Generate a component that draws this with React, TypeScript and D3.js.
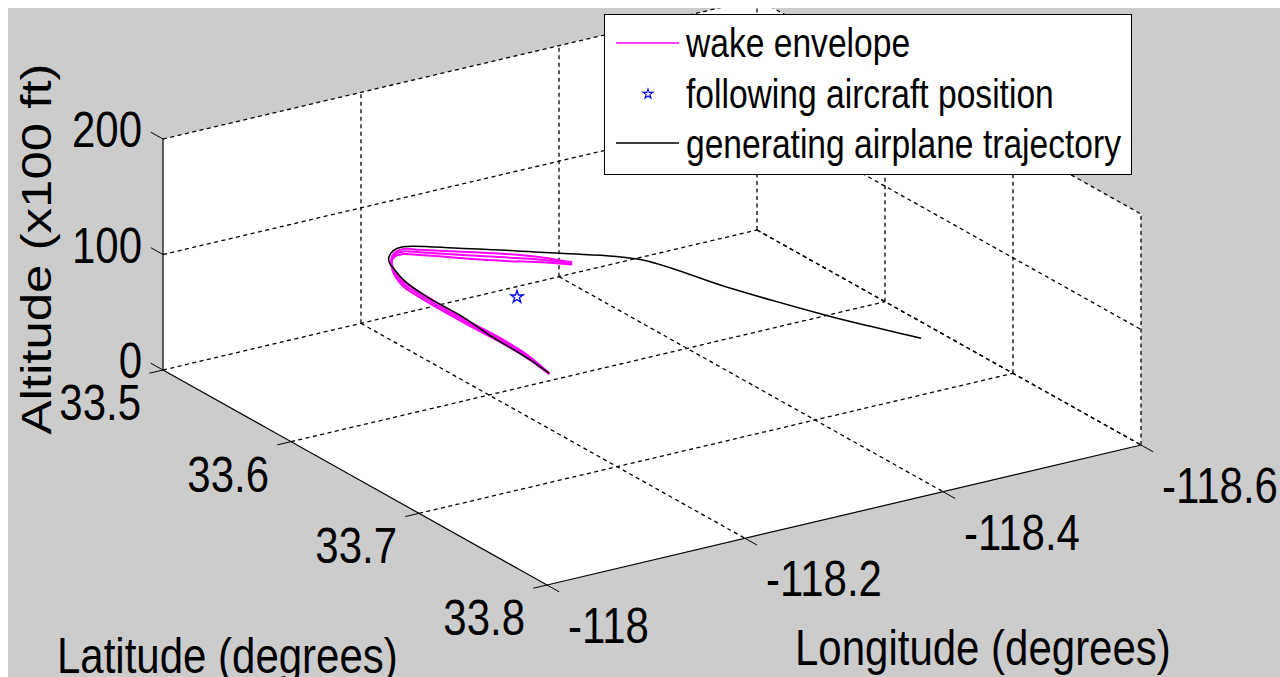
import React from 'react';
import * as d3 from 'd3';

// Axis ticks
const lonTicks = [-118, -118.2, -118.4, -118.6];
const latTicks = [33.5, 33.6, 33.7, 33.8];
const altTicks = [0, 100, 200];
const lonTickLabels = ['-118', '-118.2', '-118.4', '-118.6'];
const latTickLabels = ['33.5', '33.6', '33.7', '33.8'];
const altTickLabels = ['0', '100', '200'];

// Generating airplane trajectory (degrees, degrees, x100 ft)
const trajLon = [-118.418, -118.399, -118.383, -118.351, -118.327, -118.279, -118.218, -118.179, -118.168, -118.157, -118.150, -118.146, -118.140, -118.136, -118.137, -118.133, -118.132, -118.129];
const trajLat = [33.769, 33.745, 33.723, 33.670, 33.620, 33.594, 33.566, 33.549, 33.550, 33.555, 33.561, 33.568, 33.580, 33.602, 33.627, 33.655, 33.683, 33.702];
const trajAlt = [110, 109, 108, 106, 104, 103, 102, 101, 100.5, 100, 100, 99.5, 99, 98.5, 98, 97.5, 97, 96.5];

// Wake envelope: core position and half-height of the envelope (x100 ft)
const wakeLon = [-118.284, -118.266, -118.247, -118.227, -118.208, -118.188, -118.177, -118.167, -118.157, -118.149, -118.142, -118.137, -118.136, -118.135, -118.135, -118.137, -118.135, -118.129];
const wakeLat = [33.600, 33.589, 33.580, 33.572, 33.564, 33.555, 33.551, 33.552, 33.557, 33.564, 33.572, 33.582, 33.592, 33.607, 33.633, 33.658, 33.681, 33.702];
const wakeAlt = [97, 97, 97, 97.5, 98, 98, 98.5, 98.5, 98.5, 98, 98, 97.5, 97, 97, 96.5, 96, 96, 96];
const wakeSpread = [0.9, 2.2, 3, 3, 2.6, 2.2, 2.2, 1.7, 1.7, 1.7, 1.7, 2.2, 2.2, 2.2, 1.7, 1.7, 1.3, 0.4];

// Following aircraft
const followerLon = [-118.205];
const followerLat = [33.618];
const followerAlt = [95];

const legendLabels = ['wake envelope', 'following aircraft position', 'generating airplane trajectory'];

const FONT = '"Liberation Sans", Arial, Helvetica, sans-serif';
const SX = 0.84;

// Axis scales to unit cube
const lonScale = d3.scaleLinear().domain([-118, -118.6]).range([0, 1]);
const latScale = d3.scaleLinear().domain([33.5, 33.8]).range([0, 1]);
const altScale = d3.scaleLinear().domain([0, 200]).range([0, 1]);

// Oblique view of the unit cube
const O = [163, 370];
const eLon = [594, -140];
const eLat = [384, 215];
const eAlt = [0, -231];

function project(lon: number, lat: number, alt: number): [number, number] {
  const u = lonScale(lon), v = latScale(lat), w = altScale(alt);
  return [
    O[0] + u * eLon[0] + v * eLat[0] + w * eAlt[0],
    O[1] + u * eLon[1] + v * eLat[1] + w * eAlt[1],
  ];
}

const lonMin = -118, lonMax = -118.6, latMin = 33.5, latMax = 33.8, altMin = 0, altMax = 200;

function HText({ x, y, anchor = 'start', size, children }: any) {
  return (
    <g transform={`translate(${x},${y}) scale(${SX},1)`}>
      <text x={0} y={0} textAnchor={anchor} fontFamily={FONT} fontSize={size} fill="#000">{children}</text>
    </g>
  );
}

export default function App() {
  const smooth = d3.line<[number, number]>().curve(d3.curveCatmullRom.alpha(0.5));
  const straight = d3.line<[number, number]>();

  const A = project(lonMin, latMin, altMin);
  const B = project(lonMin, latMax, altMin);
  const C = project(lonMax, latMax, altMin);
  const Atop = project(lonMin, latMin, altMax);
  const Ctop = project(lonMax, latMax, altMax);
  const Dtop = project(lonMax, latMin, altMax);
  const pane = [Atop, A, B, C, Ctop, Dtop];

  // Grid segments on the floor and the two back walls
  const grid: [number, number][][] = [];
  latTicks.filter(t => t !== latMax).forEach(t => grid.push([project(lonMin, t, 0), project(lonMax, t, 0)]));
  lonTicks.filter(t => t !== lonMin).forEach(t => grid.push([project(t, latMin, 0), project(t, latMax, 0)]));
  lonTicks.filter(t => t !== lonMin).forEach(t => grid.push([project(t, latMin, altMin), project(t, latMin, altMax)]));
  altTicks.filter(t => t !== altMin).forEach(t => grid.push([project(lonMin, latMin, t), project(lonMax, latMin, t)]));
  latTicks.filter(t => t !== latMin).forEach(t => grid.push([project(lonMax, t, altMin), project(lonMax, t, altMax)]));
  altTicks.forEach(t => grid.push([project(lonMax, latMin, t), project(lonMax, latMax, t)]));

  const tickLen = 14;
  const norm = (d: number[]) => { const l = Math.hypot(d[0], d[1]); return [d[0] / l, d[1] / l]; };
  const dLatOut = norm([-eLon[0], -eLon[1]]);
  const dLonOut = norm([eLat[0], eLat[1]]);
  const dAltOut = norm([-eLat[0], -eLat[1]]);

  const trajPts = trajLon.map((lo, i) => project(lo, trajLat[i], trajAlt[i]));
  const wakeCore = wakeLon.map((lo, i) => project(lo, wakeLat[i], wakeAlt[i]));
  const wakeTop = wakeLon.map((lo, i) => project(lo, wakeLat[i], wakeAlt[i] + wakeSpread[i]));
  const wakeBottom = wakeLon.map((lo, i) => project(lo, wakeLat[i], wakeAlt[i] - wakeSpread[i]));
  const followerPts = followerLon.map((lo, i) => project(lo, followerLat[i], followerAlt[i]));

  const star = d3.symbol().type(d3.symbolStar).size(48)();
  const starSmall = d3.symbol().type(d3.symbolStar).size(30)();

  const magenta = '#ff00ff';

  return (
    <div style={{ position: 'fixed', left: 8, top: 8, width: 1272, height: 669, overflow: 'hidden' }}>
      <svg width={1272} height={669} style={{ display: 'block' }}>
        <g transform="translate(-8,-8)">
          <rect x={8} y={8} width={1272} height={669} fill="#cccccc" />
          <path d={straight(pane as any) + 'Z'} fill="#ffffff" />

          {grid.map((s, i) => (
            <path key={'g' + i} d={straight(s as any)!} stroke="#000" strokeWidth={1.3} strokeDasharray="4,3.5" fill="none" />
          ))}

          {/* axis lines */}
          <path d={straight([A, Atop])!} stroke="#000" strokeWidth={1.2} fill="none" />
          <path d={straight([A, B])!} stroke="#000" strokeWidth={1.2} fill="none" />
          <path d={straight([B, C])!} stroke="#000" strokeWidth={1.2} fill="none" />

          {/* ticks */}
          {altTicks.map((t, i) => {
            const p = project(lonMin, latMin, t);
            return <line key={'za' + i} x1={p[0]} y1={p[1]} x2={p[0] + dAltOut[0] * tickLen} y2={p[1] + dAltOut[1] * tickLen} stroke="#000" />;
          })}
          {latTicks.map((t, i) => {
            const p = project(lonMin, t, 0);
            return <line key={'la' + i} x1={p[0]} y1={p[1]} x2={p[0] + dLatOut[0] * tickLen} y2={p[1] + dLatOut[1] * tickLen} stroke="#000" />;
          })}
          {lonTicks.map((t, i) => {
            const p = project(t, latMax, 0);
            return <line key={'lo' + i} x1={p[0]} y1={p[1]} x2={p[0] + dLonOut[0] * tickLen} y2={p[1] + dLonOut[1] * tickLen} stroke="#000" />;
          })}

          {/* tick labels */}
          {altTicks.map((t, i) => {
            const p = project(lonMin, latMin, t);
            return <HText key={'zt' + i} x={p[0] - 21} y={p[1] + 8} anchor="end" size={50}>{altTickLabels[i]}</HText>;
          })}
          {latTicks.map((t, i) => {
            const p = project(lonMin, t, 0);
            return <HText key={'lt' + i} x={p[0] - 22} y={p[1] + 50} anchor="end" size={50}>{latTickLabels[i]}</HText>;
          })}
          {lonTicks.map((t, i) => {
            const p = project(t, latMax, 0);
            return <HText key={'ot' + i} x={p[0] + 21} y={p[1] + 58} anchor="start" size={50}>{lonTickLabels[i]}</HText>;
          })}

          {/* axis titles */}
          <HText x={57} y={673} size={50}>Latitude (degrees)</HText>
          <HText x={795} y={665} size={50}>Longitude (degrees)</HText>
          <g transform={`translate(51,249) scale(${SX},1) rotate(-90)`}>
            <text x={0} y={0} textAnchor="middle" fontFamily={FONT} fontSize={51} fill="#000">Altitude (x100 ft)</text>
          </g>

          {/* wake envelope */}
          {[wakeTop, wakeCore, wakeBottom].map((pts, i) => (
            <path key={'w' + i} d={smooth(pts as any)!} stroke={magenta} strokeWidth={2} fill="none" />
          ))}

          {/* following aircraft */}
          {followerPts.map((p, i) => (
            <path key={'f' + i} d={star!} transform={`translate(${p[0]},${p[1]})`} fill="none" stroke="#0000ff" strokeWidth={1.3} />
          ))}

          {/* generating airplane trajectory */}
          <path d={smooth(trajPts as any)!} stroke="#000" strokeWidth={1.5} fill="none" />

          {/* legend */}
          <rect x={604.5} y={14.5} width={527} height={160} fill="#fff" stroke="#000" strokeWidth={1} />
          <line x1={616} x2={679} y1={43} y2={43} stroke={magenta} strokeWidth={1.5} />
          <path d={starSmall!} transform="translate(648,94)" fill="none" stroke="#0000ff" strokeWidth={1.1} />
          <line x1={616} x2={679} y1={143} y2={143} stroke="#000" strokeWidth={1.5} />
          {legendLabels.map((l, i) => (
            <HText key={'lg' + i} x={686} y={57 + i * 50.5} size={40}>{l}</HText>
          ))}
        </g>
      </svg>
    </div>
  );
}
